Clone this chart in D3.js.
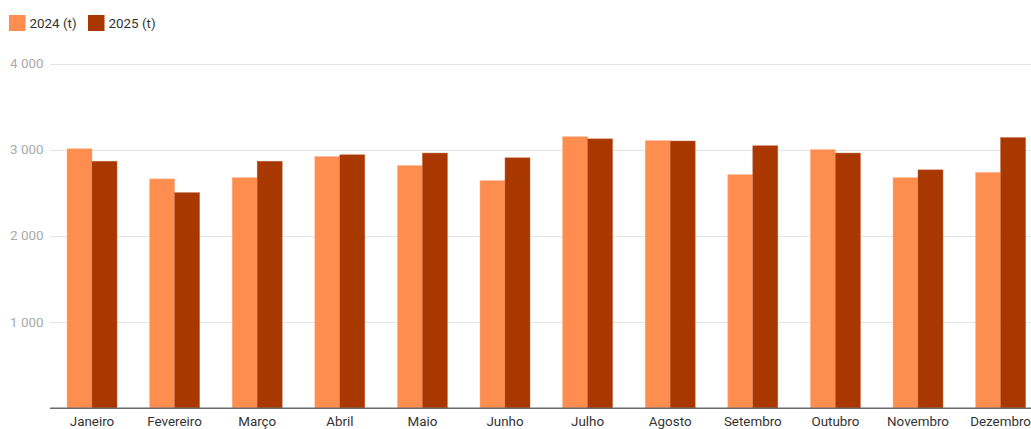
<!DOCTYPE html>
<html><head><meta charset="utf-8">
<script src="https://cdn.jsdelivr.net/npm/d3@7"></script>
<style>body{margin:0;background:#fff}svg{display:block;font-family:Roboto,sans-serif}</style>
</head><body><svg id="c" width="1031" height="429"></svg>
<script>
const categories = ["Janeiro","Fevereiro","Março","Abril","Maio","Junho","Julho","Agosto","Setembro","Outubro","Novembro","Dezembro"];
const seriesNames = ["2024 (t)","2025 (t)"];
const values2024 = [3010,2660,2675,2920,2815,2640,3150,3105,2710,3000,2675,2735];
const values2025 = [2865,2500,2865,2940,2960,2905,3125,3100,3045,2960,2765,3140];
const yTicks = [1000,2000,3000,4000];
const colors = ["#fd8e50","#a93800"];

const svg = d3.select("#c");
const x = d3.scaleBand().domain(categories).range([50.7,1041.9]).paddingInner(0.395).paddingOuter(0.1975);
const xs = d3.scaleBand().domain(seriesNames).range([0,x.bandwidth()]);
const y = d3.scaleLinear().domain([0,4000]).range([408,63.5]);
const fmt = v => d3.format(",")(v).replace(/,/g," ");

// gridlines
svg.append("g").selectAll("line").data(yTicks).join("line")
  .attr("x1",50).attr("x2",1031).attr("y1",d=>Math.round(y(d))+0.5).attr("y2",d=>Math.round(y(d))+0.5)
  .attr("stroke","#e5e5e5").attr("stroke-width",1);
svg.append("g").selectAll("text").data(yTicks).join("text")
  .attr("x",43.5).attr("y",d=>y(d)).attr("dy","0.35em").attr("text-anchor","end")
  .attr("fill","#aaaaaa").attr("font-size",13.4).text(fmt);

// bars
const series = [values2024, values2025];
series.forEach((vals,si)=>{
  svg.append("g").selectAll("rect").data(vals).join("rect")
    .attr("x",(d,i)=>x(categories[i])+xs(seriesNames[si]))
    .attr("width",xs.bandwidth())
    .attr("y",d=>y(d)).attr("height",d=>y(0)-y(d))
    .attr("fill",colors[si])
    .attr("stroke",si===0?"#ffb08a":"#c0623a").attr("stroke-width",0.6).attr("stroke-opacity",0.8);
});

// baseline
svg.append("line").attr("x1",50).attr("x2",1031).attr("y1",408.3).attr("y2",408.3)
  .attr("stroke","#6b6b6b").attr("stroke-width",1.5);

// x labels
const xAxis = d3.axisBottom(x).tickSize(0).tickPadding(8.5);
const gx = svg.append("g").attr("transform","translate(0,408)").call(xAxis);
gx.select(".domain").remove();
gx.selectAll("text").attr("fill","#333").attr("font-size",13.4).attr("font-family","Roboto,sans-serif");

// legend
const lx = [9,88];
seriesNames.forEach((n,i)=>{
  svg.append("rect").attr("x",lx[i]).attr("y",15).attr("width",16.5).attr("height",16).attr("fill",colors[i]);
  svg.append("text").attr("x",lx[i]+20.5).attr("y",23).attr("dy","0.35em").attr("fill","#333").attr("font-size",13.4).text(n);
});
</script></body></html>
